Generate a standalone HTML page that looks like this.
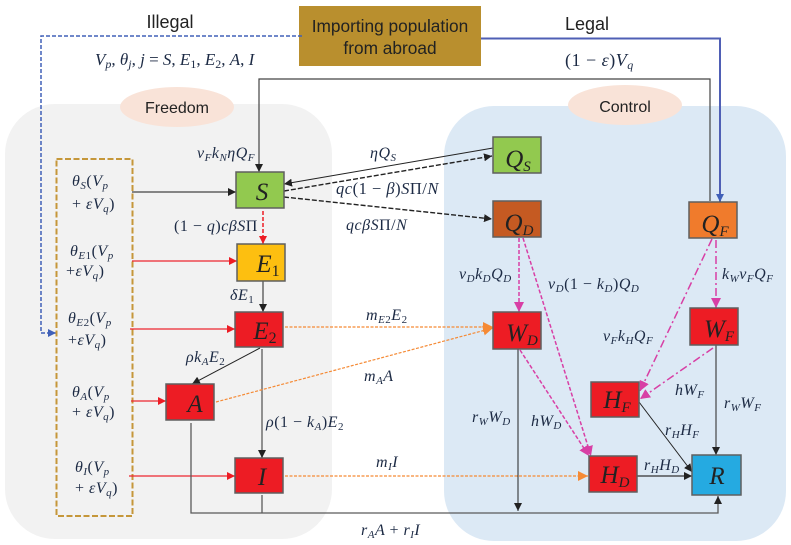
<!DOCTYPE html>
<html><head><meta charset="utf-8"><style>
html,body{margin:0;padding:0;background:#fff}
svg{display:block}
.s{font-family:"Liberation Sans",sans-serif;fill:#222}
.m{font-family:"Liberation Serif",serif;font-style:italic;font-size:16px;letter-spacing:.5px;fill:#1c2a44}
.n{font-family:"Liberation Serif",serif;font-style:italic;font-size:25px;fill:#222}
.u{font-style:normal}
.b{stroke:#5f5f5f;stroke-width:1.5}
</style></head><body>
<svg width="791" height="545" viewBox="0 0 791 545" xmlns="http://www.w3.org/2000/svg">
<defs>
<marker id="k" markerUnits="userSpaceOnUse" markerWidth="9" markerHeight="8" refX="8" refY="4" orient="auto"><path d="M0 0L8 4L0 8z" fill="#222"/></marker>
<marker id="r" markerUnits="userSpaceOnUse" markerWidth="9" markerHeight="8" refX="8" refY="4" orient="auto"><path d="M0 0L8 4L0 8z" fill="#ed1c24"/></marker>
<marker id="o" markerUnits="userSpaceOnUse" markerWidth="11" markerHeight="10" refX="10" refY="5" orient="auto"><path d="M0 0L10 5L0 10z" fill="#f58a35"/></marker>
<marker id="p" markerUnits="userSpaceOnUse" markerWidth="11" markerHeight="10" refX="10" refY="5" orient="auto"><path d="M0 0L10 5L0 10z" fill="#d83fa5"/></marker>
<marker id="bl" markerUnits="userSpaceOnUse" markerWidth="9" markerHeight="8" refX="8" refY="4" orient="auto"><path d="M0 0L8 4L0 8z" fill="#4060b8"/></marker>
</defs>

<rect x="5" y="104" width="327" height="435" rx="50" fill="#f2f2f2"/>
<rect x="444" y="106" width="342" height="435" rx="50" fill="#dce9f5"/>
<ellipse cx="177" cy="107" rx="57" ry="20" fill="#f9e3d8"/>
<ellipse cx="625" cy="105" rx="57" ry="20" fill="#f9e3d8"/>
<text class="s" x="177" y="113" font-size="16" text-anchor="middle">Freedom</text>
<text class="s" x="625" y="112" font-size="16" text-anchor="middle">Control</text>

<rect x="299" y="6" width="182" height="60" fill="#b98f2e"/>
<text class="s" x="390" y="32" font-size="17.300" text-anchor="middle">Importing population</text>
<text class="s" x="390" y="54" font-size="17.300" text-anchor="middle">from abroad</text>
<text class="s" x="170" y="28" font-size="18" text-anchor="middle">Illegal</text>
<text class="s" x="587" y="30" font-size="18" text-anchor="middle">Legal</text>

<g fill="none">
<path d="M302 36H41V333H56" stroke="#4060b8" stroke-width="1.500" stroke-dasharray="4 2" marker-end="url(#bl)"/>
<path d="M481 38.500H720V202" stroke="#4f5fb5" stroke-width="2" marker-end="url(#bl)"/>
<path d="M710 201V79H259V172" stroke="#444" stroke-width="1.200" marker-end="url(#k)"/>
<rect x="56.500" y="159" width="76" height="357" stroke="#c5973a" stroke-width="2" stroke-dasharray="6 2.500"/>

<path d="M132 192H236" stroke="#444" stroke-width="1.200" marker-end="url(#k)"/>
<path d="M132 261H237M130 329H235M131 401H166M129 476H235" stroke="#ed2530" stroke-width="1.200"/>
<path d="M229 261H237" stroke="#ed1c24" marker-end="url(#r)"/>
<path d="M227 329H235" stroke="#ed1c24" marker-end="url(#r)"/>
<path d="M158 401H166" stroke="#ed1c24" marker-end="url(#r)"/>
<path d="M227 476H235" stroke="#ed1c24" marker-end="url(#r)"/>
<path d="M263 211V244" stroke="#ed1c24" stroke-width="1.500" stroke-dasharray="4 2" marker-end="url(#r)"/>
<path d="M263 281V312" stroke="#444" stroke-width="1.200" marker-end="url(#k)"/>
<path d="M260 348L192 384" stroke="#222" stroke-width="1" marker-end="url(#k)"/>
<path d="M262 349V458" stroke="#777" stroke-width="1.600" marker-end="url(#k)"/>
<path d="M191 423V513H718V496" stroke="#5a5a5a" stroke-width="1.300" marker-end="url(#k)"/>
<path d="M262 495V513" stroke="#5a5a5a" stroke-width="1.300"/>
<path d="M493 148L284 184" stroke="#222" stroke-width="1" marker-end="url(#k)"/>
<path d="M284 191L492 156" stroke="#222" stroke-width="1.400" stroke-dasharray="5 2" marker-end="url(#k)"/>
<path d="M284 197L492 219" stroke="#222" stroke-width="1.400" stroke-dasharray="5 2" marker-end="url(#k)"/>
<path d="M285 327H493" stroke="#f58a35" stroke-width="1.200" stroke-dasharray="3 1.500" marker-end="url(#o)"/>
<path d="M216 402L493 328" stroke="#f58a35" stroke-width="1.200" stroke-dasharray="3 1.500" marker-end="url(#o)"/>
<path d="M285 476H588" stroke="#f58a35" stroke-width="1.200" stroke-dasharray="3 1.500" marker-end="url(#o)"/>
<path d="M519 238V312" stroke="#d83fa5" stroke-width="1.500" stroke-dasharray="4 2" marker-end="url(#p)"/>
<path d="M523 238L591 456" stroke="#d83fa5" stroke-width="1.500" stroke-dasharray="4 2" marker-end="url(#p)"/>
<path d="M520 350L589 456" stroke="#d83fa5" stroke-width="1.500" stroke-dasharray="4 2" marker-end="url(#p)"/>
<path d="M716 240V308" stroke="#d83fa5" stroke-width="1.500" stroke-dasharray="8 3 2 3" marker-end="url(#p)"/>
<path d="M712 239L640 391" stroke="#d83fa5" stroke-width="1.500" stroke-dasharray="8 3 2 3" marker-end="url(#p)"/>
<path d="M713 348L640 399" stroke="#d83fa5" stroke-width="1.500" stroke-dasharray="8 3 2 3" marker-end="url(#p)"/>
<path d="M518 349V511" stroke="#222" stroke-width="1" marker-end="url(#k)"/>
<path d="M716 345V455" stroke="#444" stroke-width="1.200" marker-end="url(#k)"/>
<path d="M639 402L692 472" stroke="#222" stroke-width="1" marker-end="url(#k)"/>
<path d="M637 476H692" stroke="#333" stroke-width="1.200" marker-end="url(#k)"/>
</g>

<g class="b">
<rect x="236" y="172" width="48" height="36" fill="#92c94f"/>
<rect x="237" y="244" width="48" height="37" fill="#fdbf10"/>
<rect x="235" y="312" width="48" height="35" fill="#ed1c24"/>
<rect x="166" y="384" width="48" height="36" fill="#ed1c24"/>
<rect x="235" y="458" width="48" height="35" fill="#ed1c24"/>
<rect x="493" y="137" width="48" height="36" fill="#92c94f"/>
<rect x="493" y="201" width="48" height="36" fill="#c55a22"/>
<rect x="689" y="202" width="48" height="36" fill="#f07b2c"/>
<rect x="493" y="312" width="48" height="37" fill="#ed1c24"/>
<rect x="690" y="308" width="48" height="37" fill="#ed1c24"/>
<rect x="591" y="382" width="48" height="35" fill="#ed1c24"/>
<rect x="589" y="456" width="48" height="36" fill="#ed1c24"/>
<rect x="692" y="455" width="49" height="40" fill="#25aae1"/>
</g>

<text class="n" x="262" y="200" text-anchor="middle">S</text>
<text class="n" x="268" y="272" text-anchor="middle">E<tspan class="u" font-size="16" dy="4">1</tspan></text>
<text class="n" x="265" y="339" text-anchor="middle">E<tspan class="u" font-size="16" dy="4">2</tspan></text>
<text class="n" x="195" y="412" text-anchor="middle">A</text>
<text class="n" x="262" y="485" text-anchor="middle">I</text>
<text class="n" x="518" y="167" text-anchor="middle">Q<tspan font-size="15" dy="4">S</tspan></text>
<text class="n" x="519" y="231" text-anchor="middle">Q<tspan font-size="15" dy="4">D</tspan></text>
<text class="n" x="715" y="232" text-anchor="middle">Q<tspan font-size="15" dy="4">F</tspan></text>
<text class="n" x="522" y="341" text-anchor="middle">W<tspan font-size="15" dy="4">D</tspan></text>
<text class="n" x="719" y="337" text-anchor="middle">W<tspan font-size="15" dy="4">F</tspan></text>
<text class="n" x="617" y="408" text-anchor="middle">H<tspan font-size="15" dy="4">F</tspan></text>
<text class="n" x="615" y="483" text-anchor="middle">H<tspan font-size="15" dy="4">D</tspan></text>
<text class="n" x="717" y="484" text-anchor="middle">R</text>

<g class="m">
<text class="m" x="95" y="65" style="font-size:17px;letter-spacing:0">V<tspan font-size="12" dy="3">p</tspan><tspan dy="-3" class="u">, </tspan>θ<tspan font-size="12" dy="3">j</tspan><tspan dy="-3" class="u">, </tspan>j <tspan class="u">=</tspan> S<tspan class="u">, </tspan>E<tspan class="u" font-size="12" dy="3">1</tspan><tspan dy="-3" class="u">, </tspan>E<tspan class="u" font-size="12" dy="3">2</tspan><tspan dy="-3" class="u">, </tspan>A<tspan class="u">, </tspan>I</text>
<text class="m" x="565" y="66" style="font-size:18px"><tspan class="u">(1 − </tspan>ε<tspan class="u">)</tspan>V<tspan font-size="12" dy="3">q</tspan></text>

<text class="m" x="197" y="158">v<tspan font-size="11" dy="3">F</tspan><tspan dy="-3">k</tspan><tspan font-size="11" dy="3">N</tspan><tspan dy="-3">ηQ</tspan><tspan font-size="11" dy="3">F</tspan></text>
<text class="m" x="370" y="158">ηQ<tspan font-size="11" dy="3">S</tspan></text>
<text class="m" x="336" y="194" style="font-size:16.500px">qc<tspan class="u">(1 − </tspan>β<tspan class="u">)</tspan>S<tspan class="u">Π/</tspan>N</text>
<text class="m" x="346" y="230">qcβS<tspan class="u">Π/</tspan>N</text>
<text class="m" x="174" y="231"><tspan class="u">(1 − </tspan>q<tspan class="u">)</tspan>cβS<tspan class="u">Π</tspan></text>
<text class="m" x="230" y="300">δE<tspan class="u" font-size="11" dy="3">1</tspan></text>
<text class="m" x="186" y="362">ρk<tspan font-size="11" dy="3">A</tspan><tspan dy="-3">E</tspan><tspan class="u" font-size="11" dy="3">2</tspan></text>
<text class="m" x="266" y="427">ρ<tspan class="u">(1 − </tspan>k<tspan font-size="11" dy="3">A</tspan><tspan dy="-3" class="u">)</tspan>E<tspan class="u" font-size="11" dy="3">2</tspan></text>
<text class="m" x="366" y="320">m<tspan font-size="11" dy="3">E</tspan><tspan class="u" font-size="11">2</tspan><tspan dy="-3">E</tspan><tspan class="u" font-size="11" dy="3">2</tspan></text>
<text class="m" x="364" y="381">m<tspan font-size="11" dy="3">A</tspan><tspan dy="-3">A</tspan></text>
<text class="m" x="376" y="467">m<tspan font-size="11" dy="3">I</tspan><tspan dy="-3">I</tspan></text>
<text class="m" x="361" y="535">r<tspan font-size="11" dy="3">A</tspan><tspan dy="-3">A </tspan><tspan class="u">+ </tspan>r<tspan font-size="11" dy="3">I</tspan><tspan dy="-3">I</tspan></text>
<text class="m" x="459" y="279">v<tspan font-size="11" dy="3">D</tspan><tspan dy="-3">k</tspan><tspan font-size="11" dy="3">D</tspan><tspan dy="-3">Q</tspan><tspan font-size="11" dy="3">D</tspan></text>
<text class="m" x="548" y="289">v<tspan font-size="11" dy="3">D</tspan><tspan dy="-3" class="u">(1 − </tspan>k<tspan font-size="11" dy="3">D</tspan><tspan dy="-3" class="u">)</tspan>Q<tspan font-size="11" dy="3">D</tspan></text>
<text class="m" x="722" y="279">k<tspan font-size="11" dy="3">W</tspan><tspan dy="-3">v</tspan><tspan font-size="11" dy="3">F</tspan><tspan dy="-3">Q</tspan><tspan font-size="11" dy="3">F</tspan></text>
<text class="m" x="603" y="341">v<tspan font-size="11" dy="3">F</tspan><tspan dy="-3">k</tspan><tspan font-size="11" dy="3">H</tspan><tspan dy="-3">Q</tspan><tspan font-size="11" dy="3">F</tspan></text>
<text class="m" x="675" y="395">hW<tspan font-size="11" dy="3">F</tspan></text>
<text class="m" x="724" y="408">r<tspan font-size="11" dy="3">W</tspan><tspan dy="-3">W</tspan><tspan font-size="11" dy="3">F</tspan></text>
<text class="m" x="472" y="422">r<tspan font-size="11" dy="3">W</tspan><tspan dy="-3">W</tspan><tspan font-size="11" dy="3">D</tspan></text>
<text class="m" x="531" y="426">hW<tspan font-size="11" dy="3">D</tspan></text>
<text class="m" x="665" y="435">r<tspan font-size="11" dy="3">H</tspan><tspan dy="-3">H</tspan><tspan font-size="11" dy="3">F</tspan></text>
<text class="m" x="644" y="470">r<tspan font-size="11" dy="3">H</tspan><tspan dy="-3">H</tspan><tspan font-size="11" dy="3">D</tspan></text>

<text class="m" x="72" y="186">θ<tspan font-size="11" dy="3">S</tspan><tspan dy="-3" class="u">(</tspan>V<tspan font-size="11" dy="3">p</tspan></text>
<text class="m" x="72" y="209"><tspan class="u">+ </tspan>εV<tspan font-size="11" dy="3">q</tspan><tspan dy="-3" class="u">)</tspan></text>
<text class="m" x="70" y="256">θ<tspan font-size="11" dy="3">E</tspan><tspan class="u" font-size="11">1</tspan><tspan dy="-3" class="u">(</tspan>V<tspan font-size="11" dy="3">p</tspan></text>
<text class="m" x="66" y="276"><tspan class="u">+</tspan>εV<tspan font-size="11" dy="3">q</tspan><tspan dy="-3" class="u">)</tspan></text>
<text class="m" x="68" y="323">θ<tspan font-size="11" dy="3">E</tspan><tspan class="u" font-size="11">2</tspan><tspan dy="-3" class="u">(</tspan>V<tspan font-size="11" dy="3">p</tspan></text>
<text class="m" x="68" y="345"><tspan class="u">+</tspan>εV<tspan font-size="11" dy="3">q</tspan><tspan dy="-3" class="u">)</tspan></text>
<text class="m" x="72" y="397">θ<tspan font-size="11" dy="3">A</tspan><tspan dy="-3" class="u">(</tspan>V<tspan font-size="11" dy="3">p</tspan></text>
<text class="m" x="72" y="417"><tspan class="u">+ </tspan>εV<tspan font-size="11" dy="3">q</tspan><tspan dy="-3" class="u">)</tspan></text>
<text class="m" x="75" y="472">θ<tspan font-size="11" dy="3">I</tspan><tspan dy="-3" class="u">(</tspan>V<tspan font-size="11" dy="3">p</tspan></text>
<text class="m" x="75" y="493"><tspan class="u">+ </tspan>εV<tspan font-size="11" dy="3">q</tspan><tspan dy="-3" class="u">)</tspan></text>
</g>
</svg>
</body></html>
